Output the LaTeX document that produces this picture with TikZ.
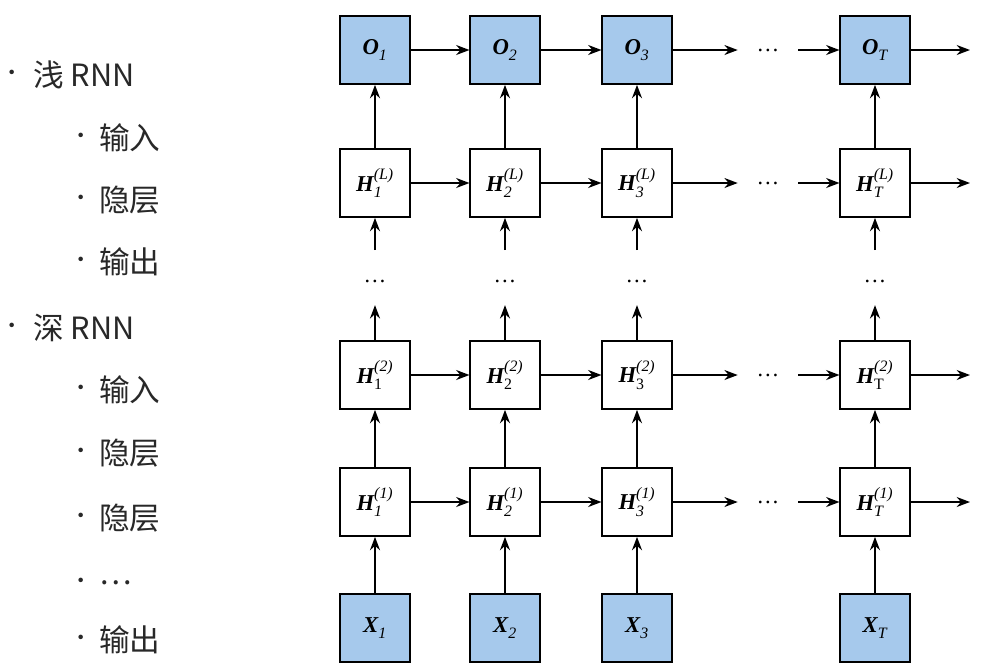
\documentclass[tikz,border=0pt]{standalone}
\usepackage{amsmath}
\usepackage{fontspec}
\newfontfamily\cjk{Noto Sans CJK SC}
\newfontfamily\tms{Liberation Serif}
\usetikzlibrary{arrows.meta}
\definecolor{boxblue}{RGB}{166,201,236}
\definecolor{txtgray}{RGB}{40,40,40}
\newcommand{\lab}[3]{$\text{\tms\bfseries\itshape #1}^{\text{\tms\itshape #3}}_{\text{\tms\itshape #2}}$}
\newcommand{\labu}[3]{$\text{\tms\bfseries\itshape #1}^{\text{\tms\itshape #3}}_{\text{\tms #2}}$}
\begin{document}
\begin{tikzpicture}[x=0.75pt,y=-0.75pt,
  bx/.style={draw,line width=1.3pt,minimum width=52pt,minimum height=51pt,inner sep=0pt,font=\fontsize{17}{20}\selectfont},
  io/.style={bx,fill=boxblue},
  hd/.style={bx,fill=white},
  ar/.style={-{Stealth[length=10pt,width=7.5pt]},line width=1.3pt},
  dt/.style={font=\tms\fontsize{17}{20}\selectfont,inner sep=0pt},
  li/.style={anchor=west,text=txtgray,font=\cjk\fontsize{23}{27}\selectfont,inner sep=0pt},
  bu/.style={text=txtgray,font=\cjk\fontsize{16}{20}\selectfont,inner sep=0pt}]
\useasboundingbox (0,0) rectangle (990,669);
% left list
\foreach \y/\t/\lvl [count=\i] in {75/浅 RNN/0,138/输入/1,200/隐层/1,262/输出/1,328/深 RNN/0,390/输入/1,453/隐层/1,518/隐层/1,583/…/1,640/输出/1}{
  \ifnum\lvl=0
    \node[bu] (b\i) at (12,\y) {•};
    \node[li] (l\i) at (33,\y) {\t};
  \else
    \node[bu] (b\i) at (81,\y) {•};
    \node[li] (l\i) at (99,\y) {\t};
  \fi}
% columns
\foreach \c/\x/\s in {1/375/1,2/505/2,3/637/3,4/875/T}{
  \node[io] (o\c) at (\x,50) {\lab{O}{\s}{}};
  \node[hd] (hl\c) at (\x,183) {\lab{H}{\s}{(L)}};
  \node[dt] (d\c) at (\x,281) {…};
  \node[hd] (h2\c) at (\x,375) {\labu{H}{\s}{(2)}};
  \node[hd] (h1\c) at (\x,502) {\lab{H}{\s}{(1)}};
  \node[io] (x\c) at (\x,628) {\lab{X}{\s}{}};
  \draw[ar] (x\c) -- (h1\c);
  \draw[ar] (h1\c) -- (h2\c);
  \draw[ar] (h2\c.north) -- ++(0,-35);
  \draw[ar] (\x,250) -- (hl\c.south);
  \draw[ar] (hl\c) -- (o\c);
}
\foreach \r/\y in {o/50,hl/183,h2/375,h1/502}{
  \draw[ar] (\r1) -- (\r2);
  \draw[ar] (\r2) -- (\r3);
  \node[dt,minimum width=45pt] (e\r) at (768,\y) {…};
  \draw[ar] (\r3) -- (e\r.west);
  \draw[ar] (e\r.east) -- (\r4);
  \coordinate (f\r) at (970,\y);
  \draw[ar] (\r4) -- (f\r);
}
\end{tikzpicture}
\end{document}
